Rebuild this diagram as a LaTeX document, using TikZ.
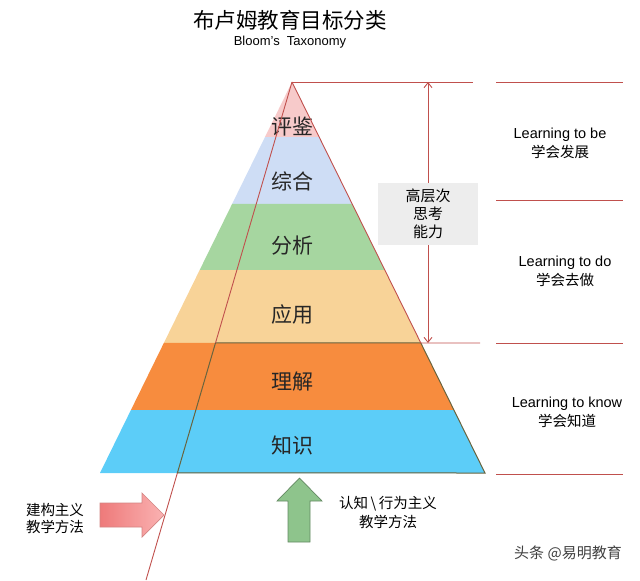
\documentclass[tikz,border=0pt]{standalone}
\usepackage{fontspec}
\setmainfont{Liberation Sans}
\newfontfamily\cjk{Noto Sans CJK SC}
\usetikzlibrary{calc,arrows.meta}
\definecolor{edgered}{RGB}{192,80,77}
\definecolor{trapline}{RGB}{105,100,62}
\definecolor{bandA}{RGB}{247,202,202}
\definecolor{bandB}{RGB}{206,221,245}
\definecolor{bandC}{RGB}{166,214,160}
\definecolor{bandD}{RGB}{248,211,152}
\definecolor{bandE}{RGB}{247,140,62}
\definecolor{bandF}{RGB}{92,205,248}
\definecolor{arrowredA}{RGB}{238,122,122}
\definecolor{arrowredB}{RGB}{250,178,178}
\definecolor{arrowgreen}{RGB}{142,196,140}
\tikzset{
  lvl/.style={font=\cjk\fontsize{21}{24}\selectfont,text=black!85,inner sep=0pt},
  side/.style={align=center,font=\fontsize{14.5}{18}\selectfont,inner sep=0pt},
  redline/.style={draw=edgered,line width=.9pt},
  tipline/.style={redline,{Straight Barb[length=5pt,width=8pt]}-{Straight Barb[length=5pt,width=8pt]}},
  graybox/.style={fill=black!7,minimum width=100pt,minimum height=62pt,align=center,
    font=\cjk\fontsize{15}{18}\selectfont}
}

\begin{document}
\begin{tikzpicture}[x=1pt,y=-1pt]
  \useasboundingbox (0,0) rectangle (640,581);
  \coordinate (apex) at (292,82);
  \coordinate (bl) at (100,473);
  \coordinate (br) at (485,473);
  \coordinate (dend) at (146,580);
  % the six bands
  \foreach \ta/\tb/\col in {0/0.1407/bandA,0.1407/0.312/bandB,0.312/0.481/bandC,
      0.481/0.6675/bandD,0.6675/0.839/bandE,0.839/1/bandF}
    \fill[\col] ($(apex)!\ta!(bl)$) -- ($(apex)!\tb!(bl)$) -- ($(apex)!\tb!(br)$) -- ($(apex)!\ta!(br)$) -- cycle;
  \foreach \name/\y/\txt in {pj/127/评鉴,zh/181/综合,fx/246/分析,yy/315/应用,lj/382/理解,zs/445/知识}
    \node[lvl] (\name) at (292,\y) {\txt};
  % lines over the pyramid
  \coordinate (r3) at ($(apex)!0.6675!(br)$);
  \coordinate (d3) at ($(apex)!0.524!(dend)$);
  \coordinate (d4) at ($(apex)!0.785!(dend)$);
  \draw[trapline,line width=1pt] (d3) -- (r3) -- (br) -- (d4) -- cycle;
  \draw[redline] (apex) -- (d3);
  \draw[redline] (d4) -- (dend);
  \draw[redline] (apex) -- (r3);
  \draw[redline] (apex) -- (473,82);
  \draw[redline] (r3) -- (480,343);
  \foreach \y in {82,200,343,474}
    \draw[redline] (496,\y) -- (623,\y);
  \coordinate (up) at (428,82);
  \coordinate (down) at (428,343);
  \draw[tipline] (up) -- (down);
  \node[graybox] (think) at (428,214) {高层次\\思考\\能力};
  % right column
  \node[side] (be) at (560,143) {Learning to be\\[1pt]{\cjk 学会发展}};
  \node[side] (do) at (565,271) {Learning to do\\[1pt]{\cjk 学会去做}};
  \node[side] (know) at (567,412) {Learning to know\\[1pt]{\cjk 学会知道}};
  % title
  \node[font=\cjk\fontsize{21.5}{24}\selectfont] (title) at (290,20) {布卢姆教育目标分类};
  \node[font=\fontsize{13}{15}\selectfont] (subtitle) at (290,42) {Bloom's\ \ Taxonomy};
  % methods
  \shade[left color=arrowredA,right color=arrowredB,draw=edgered!70,line width=.7pt]
    (100,503) -- (142,503) -- (142,493) -- (164,515) -- (142,537) -- (142,527) -- (100,527) -- cycle;
  \node[side,font=\cjk\fontsize{14.5}{17}\selectfont] (cons) at (55,518) {建构主义\\教学方法};
  \filldraw[fill=arrowgreen,draw=arrowgreen!70!black,line width=.7pt]
    (288,542) -- (288,501) -- (277,501) -- (299.5,478) -- (322,501) -- (310,501) -- (310,542) -- cycle;
  \node[side,font=\cjk\fontsize{14.5}{19}\selectfont] (cogn) at (388,512) {认知\,\textbackslash\,行为主义\\教学方法};
  \node[font=\cjk\fontsize{15}{18}\selectfont,text=black!75] (mark) at (568,553) {头条 @易明教育};
\end{tikzpicture}
\end{document}
